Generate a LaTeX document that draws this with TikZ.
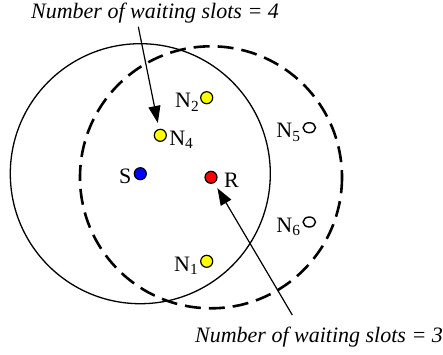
\documentclass[tikz,border=0pt]{standalone}
\usepackage{fontspec}
\setmainfont{Liberation Serif}
\usepackage{xcolor}
\usepackage{tikz}
\usetikzlibrary{positioning,arrows.meta,shapes.geometric}
\definecolor{srcblue}{RGB}{0,0,255}
\definecolor{rxred}{RGB}{255,0,0}
\definecolor{busy}{RGB}{255,255,0}

\begin{document}
\begin{tikzpicture}[x=0.5pt,y=-0.5pt,
  dot/.style={circle,draw,line width=0.6pt,inner sep=0pt,minimum size=6pt},
  idle/.style={ellipse,draw,line width=0.7pt,inner sep=0pt,minimum width=6.2pt,minimum height=5pt},
  lbl/.style={inner sep=0pt,text depth=0pt,font=\fontsize{11}{13}\selectfont,yshift=-1.5pt},
  note/.style={inner sep=0pt,font=\fontsize{11}{13}\selectfont\itshape},
  pointer/.style={line width=0.6pt,-{Triangle[length=8.5pt,width=6pt]},shorten >=3pt}]
  \useasboundingbox (0,0) rectangle (443,354);
  % nodes
  \node[dot,fill=srcblue] (s) at (140.3,173.7) {};
  \node[dot,fill=rxred] (r) at (211,177.3) {};
  \node[dot,fill=busy] (n1) at (206.7,261.3) {};
  \node[dot,fill=busy] (n2) at (206.7,97.7) {};
  \node[dot,fill=busy] (n4) at (160.3,135.3) {};
  \node[idle] (n5) at (309.3,127.7) {};
  \node[idle] (n6) at (309.3,222) {};
  % coverage of S (solid) and of R (dashed)
  \draw[line width=0.65pt] (s) circle[radius=130];
  \draw[line width=1.3pt,dash pattern=on 8pt off 4pt] (r) circle[radius=131];
  % labels
  \node[lbl,left=1pt of s] (ls) {S};
  \node[lbl,right=3pt of r] (lr) {R};
  \node[lbl,left=0.5pt of n1] (l1) {N\textsubscript{1}};
  \node[lbl,left=0pt of n2] (l2) {N\textsubscript{2}};
  \node[lbl,right=1pt of n4] (l4) {N\textsubscript{4}};
  \node[lbl,left=0.5pt of n5] (l5) {N\textsubscript{5}};
  \node[lbl,left=0.5pt of n6] (l6) {N\textsubscript{6}};
  % waiting slot annotations
  \node[note,anchor=base] (slots4) at (155,18) {Number of waiting slots = 4};
  \node[note,anchor=base] (slots3) at (319,342) {Number of waiting slots = 3};
  \coordinate (from4) at (138.3,26.7);
  \coordinate (from3) at (292.3,315);
  \draw[pointer] (from4) -- (n4);
  \draw[pointer] (from3) -- (r);
\end{tikzpicture}
\end{document}
